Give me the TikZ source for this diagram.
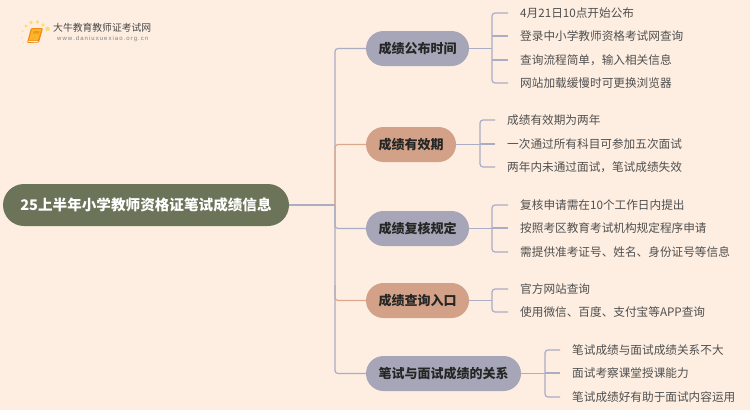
\documentclass[tikz,border=0pt]{standalone}
\usepackage{fontspec}
\setmainfont{Noto Sans CJK SC}
\newfontfamily\latinfont{Liberation Sans}
\definecolor{bgc}{HTML}{FEEEE1}
\definecolor{rootc}{HTML}{6B7358}
\definecolor{bluec}{HTML}{A6A6B8}
\definecolor{orangec}{HTML}{D2A187}
\definecolor{linec}{HTML}{ABADC4}
\definecolor{lineo}{HTML}{DDA98A}
\definecolor{textc}{HTML}{4F4F4F}
\definecolor{bookd}{HTML}{F08A10}
\definecolor{bookl}{HTML}{FBB52C}
\definecolor{dotc}{HTML}{FBDC7A}
\tikzset{
  x=1pt,y=-1pt,
  rootnode/.style={rounded corners=21pt,fill=rootc,text=white,minimum height=42pt,minimum width=286pt,inner sep=0pt,font=\fontsize{14.6}{15}\selectfont\bfseries},
  topic/.style={rounded corners=17.5pt,minimum height=35pt,inner sep=0pt,text=black!85,font=\fontsize{13}{13}\selectfont\bfseries},
  topicb/.style={topic,fill=bluec},
  topico/.style={topic,fill=orangec},
  leaf/.style={anchor=west,inner xsep=12pt,inner ysep=0pt,text=textc,font=\fontsize{11.65}{12}\selectfont},
  conn/.style={draw=linec,line width=1.2pt,rounded corners=3pt},
  conno/.style={draw=lineo,line width=1.2pt,rounded corners=3pt}
}
\begin{document}
\begin{tikzpicture}
\useasboundingbox[fill=bgc] (0,0) rectangle (750,410);
\node[rootnode] (root) at (146,205) {25上半年小学教师资格证笔试成绩信息};
\coordinate (trunk) at (335,205);
\coordinate (dtop) at (335,285);
\node[topicb,minimum width=103pt] (a) at (417.5,48.5) {成绩公布时间};
\node[topico,minimum width=90pt] (b) at (411,144.5) {成绩有效期};
\node[topicb,minimum width=103pt] (c) at (417.5,228.5) {成绩复核规定};
\node[topico,minimum width=103pt] (d) at (417.5,300.5) {成绩查询入口};
\node[topicb,minimum width=155pt] (e) at (443.5,373.5) {笔试与面试成绩的关系};
\coordinate (ab) at (492,48.5);
\coordinate (bb) at (480,144.5);
\coordinate (cb) at (492,228.5);
\coordinate (db) at (492,300.5);
\coordinate (eb) at (545,373.5);
\node[leaf] (a1) at (508,13) {4月21日10点开始公布};
\node[leaf] (a2) at (508,36) {登录中小学教师资格考试网查询};
\node[leaf] (a3) at (508,60) {查询流程简单，输入相关信息};
\node[leaf] (a4) at (508,83) {网站加载缓慢时可更换浏览器};
\node[leaf] (b1) at (495,120) {成绩有效期为两年};
\node[leaf] (b2) at (495,144) {一次通过所有科目可参加五次面试};
\node[leaf] (b3) at (495,167) {两年内未通过面试，笔试成绩失效};
\node[leaf] (c1) at (508,205) {复核申请需在10个工作日内提出};
\node[leaf] (c2) at (508,228) {按照考区教育考试机构规定程序申请};
\node[leaf] (c3) at (508,252) {需提供准考证号、姓名、身份证号等信息};
\node[leaf] (d1) at (508,289) {官方网站查询};
\node[leaf] (d2) at (508,312) {使用微信、百度、支付宝等APP查询};
\node[leaf] (e1) at (560,350) {笔试成绩与面试成绩关系不大};
\node[leaf] (e2) at (560,373) {面试考察课堂授课能力};
\node[leaf] (e3) at (560,397) {笔试成绩好有助于面试内容运用};
\draw[conno] (dtop) |- (d.west);
\draw[conn] (root.east) -- (trunk);
\draw[conn] (a.west) -| (trunk) |- (e.west);
\draw[conn] (trunk) |- (c.west);
\draw[conno] (trunk) |- (b.west);
\foreach \t/\bx/\first/\last in {a/ab/a1/a4,b/bb/b1/b3,c/cb/c1/c3,d/db/d1/d2,e/eb/e1/e3}{
  \draw[conn] (\t.east) -- (\bx);
  \draw[conn] (\first.west) -| (\bx) |- (\last.west);
}
\foreach \bx/\l in {ab/a2,ab/a3,bb/b2,cb/c2,eb/e2}{
  \draw[conn] (\l.west) -- (\l.west -| \bx);
}
% logo
\fill[dotc] (26,26) circle (1.7) (31,22.5) circle (1.8) (37.5,22) circle (1.9) (43,25) circle (1.9) (47.5,29) circle (2.3);
\fill[dotc,opacity=.6] (22.5,31) circle (1.3) (22,37.5) circle (1.1) (23.5,42.5) circle (.9);
\fill[bookd,rounded corners=1pt] (31,28) -- (43,28) -- (39,42.5) -- (27,43) -- cycle;
\fill[bookl,rounded corners=.6pt] (32,29) -- (41.5,29) -- (38,40) -- (29,40) -- cycle;
\fill[white!80!bookl] (28.5,40.8) -- (38,40.8) -- (37.7,41.8) -- (28.2,41.8) -- cycle;
\fill[bookd!70!bookl] (33.5,31) -- (39.5,31) -- (39,33.5) -- (33,33.5) -- cycle;
\node[anchor=west,inner sep=0pt,text=black!72,font=\fontsize{9.8}{11}\selectfont] (logot) at (53,27.5) {大牛教育教师证考试网};
\node[anchor=west,inner sep=0pt,text=black!50,font=\latinfont\fontsize{6}{7}\selectfont,text width=91pt,align=justify] (logou) at (57,39) {w\hfill w\hfill w\hfill .\hfill d\hfill a\hfill n\hfill i\hfill u\hfill x\hfill u\hfill e\hfill x\hfill i\hfill a\hfill o\hfill .\hfill o\hfill r\hfill g\hfill .\hfill c\hfill n};
\end{tikzpicture}
\end{document}
